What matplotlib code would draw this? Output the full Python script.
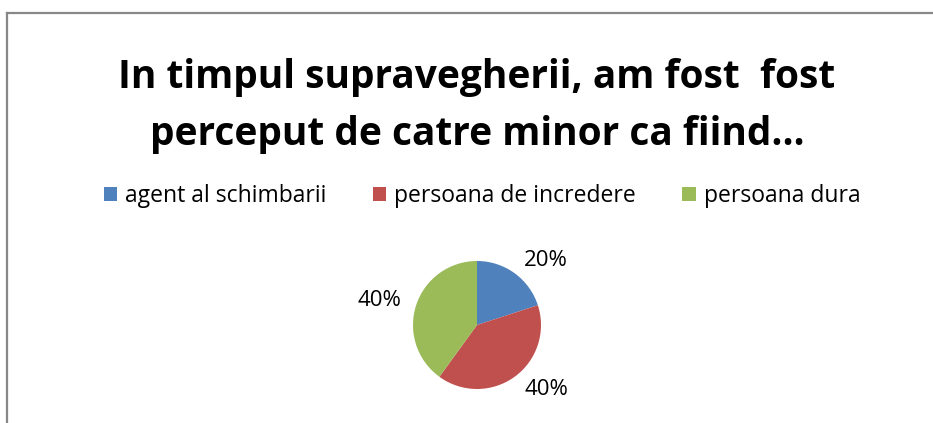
import matplotlib
matplotlib.use('Agg')
import matplotlib.pyplot as plt
from matplotlib.lines import Line2D

# Chart data
categories = ['agent al schimbarii', 'persoana de incredere', 'persoana dura']
shares = [20, 40, 40]
labels = ['20%', '40%', '40%']
colors = ['#4F81BD', '#C0504D', '#9BBB59']

title = 'In timpul supravegherii, am fost  fost\nperceput de catre minor ca fiind…'

plt.rcParams['font.family'] = ['Open Sans', 'DejaVu Sans']

W, H = 933, 423
fig = plt.figure(figsize=(W / 100, H / 100), dpi=100)

# chart area border (top and left only visible)
fig.add_artist(Line2D([7 / W, 1], [1 - 13 / H, 1 - 13 / H], color='#888888', lw=1.6))
fig.add_artist(Line2D([7 / W, 7 / W], [1 - 13 / H, 0], color='#888888', lw=1.6))

fig.text(477 / W, 1 - 106 / H, title, ha='center', va='center', fontsize=28,
         fontweight='bold', linespacing=1.62)

# pie, centre ~(477, 325) px, radius ~64 px
r = 64
cx, cy = 477, 325
ax = fig.add_axes([(cx - r) / W, 1 - (cy + r) / H, 2 * r / W, 2 * r / H])
wedges, texts = ax.pie(shares, labels=labels, colors=colors, startangle=90,
                       counterclock=False, labeldistance=1.25,
                       textprops={'fontsize': 16})
ax.set_xlim(-1, 1)
ax.set_ylim(-1, 1)
ax.set_aspect('equal')

fig.legend(wedges, categories, loc='center', bbox_to_anchor=(482 / W, 1 - 196 / H),
           ncol=3, frameon=False, fontsize=16.5, handlelength=0.6, handleheight=0.6,
           handletextpad=0.35, columnspacing=2.0)

fig.savefig('out.png', dpi=100)
